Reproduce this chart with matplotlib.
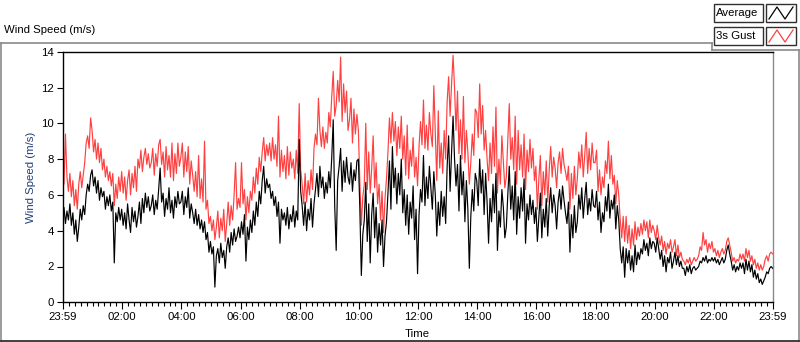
import numpy as np
import matplotlib
matplotlib.use("Agg")
import matplotlib.pyplot as plt
from matplotlib.patches import Rectangle
from matplotlib.lines import Line2D

# ---- data (3-minute samples from 23:59 to 23:59), one row per hour ----
average = [
    4.9, 5.3, 4.4, 5.1, 4.6, 5.5, 4.3, 5.0, 3.8, 4.6, 3.4, 4.2, 5.2, 4.6, 5.4, 4.9, 6.0, 6.6, 6.2, 7.1,
    7.4, 6.5, 7.0, 6.1, 6.8, 5.7, 6.4, 5.9, 6.2, 5.2, 5.9, 5.4, 6.0, 5.1, 5.6, 2.2, 5.0, 4.5, 5.3, 4.6,
    5.2, 4.3, 5.0, 4.1, 5.5, 4.6, 3.9, 5.3, 4.5, 5.1, 4.2, 4.8, 5.6, 4.4, 5.8, 5.0, 6.1, 5.3, 5.9, 5.1,
    5.4, 6.0, 4.9, 5.7, 5.2, 6.3, 7.5, 5.6, 6.1, 4.8, 5.8, 5.2, 6.4, 5.0, 5.7, 4.7, 5.9, 5.3, 6.2, 5.5,
    5.6, 6.2, 4.9, 5.9, 5.3, 6.4, 4.7, 5.5, 5.0, 4.4, 5.2, 4.3, 4.9, 4.1, 4.6, 3.9, 4.5, 3.5, 3.9, 2.8,
    3.4, 2.7, 3.1, 0.85, 2.6, 3.0, 2.2, 3.3, 2.5, 2.9, 1.9, 3.1, 3.6, 2.8, 3.9, 3.2, 4.1, 3.4, 3.7, 4.2,
    3.6, 4.5, 3.8, 4.9, 2.3, 4.2, 3.5, 4.6, 3.9, 5.1, 4.3, 5.6, 4.8, 6.2, 5.5, 6.8, 7.6, 6.1, 6.9, 6.4,
    6.6, 5.8, 6.2, 5.4, 5.9, 4.8, 5.6, 3.3, 5.2, 4.6, 5.0, 4.3, 5.3, 4.1, 4.9, 4.5, 5.4, 4.2, 5.1, 4.6,
    9.1, 6.2, 5.4, 4.3, 5.6, 4.0, 5.2, 4.6, 5.8, 4.2, 5.5, 6.3, 7.2, 5.9, 7.6, 6.4, 7.0, 5.8, 6.7, 6.1,
    7.3, 6.4, 8.1, 10.2, 5.4, 2.9, 6.8, 7.6, 8.6, 6.2, 7.9, 6.7, 8.1, 7.0, 6.6, 7.8, 6.2, 7.4, 6.8, 7.9,
    8.0, 5.2, 1.5, 3.8, 4.6, 6.7, 3.4, 5.5, 2.2, 4.9, 6.1, 3.6, 5.3, 2.8, 4.4, 3.2, 4.6, 2.0, 3.7, 4.5,
    6.1, 7.9, 5.2, 8.7, 6.4, 7.5, 5.5, 7.2, 6.0, 8.0, 5.0, 6.3, 4.3, 6.0, 3.8, 5.6, 4.7, 6.5, 3.5, 5.2,
    1.6, 4.9, 6.3, 5.6, 8.2, 5.4, 7.0, 5.8, 7.6, 6.4, 5.2, 7.3, 6.0, 3.7, 5.6, 4.3, 6.2, 4.8, 5.9, 4.4,
    7.6, 9.3, 6.2, 8.4, 10.4, 8.0, 6.5, 7.7, 5.1, 8.2, 6.0, 7.3, 4.5, 6.8, 5.2, 1.9, 4.8, 6.3, 5.1, 7.2,
    6.8, 5.4, 8.0, 6.1, 7.4, 4.9, 7.2, 5.6, 3.3, 5.8, 4.5, 6.6, 5.0, 7.2, 2.9, 5.1, 4.2, 6.3, 5.3, 3.6,
    4.2, 6.0, 7.6, 5.2, 6.5, 4.6, 7.3, 3.8, 5.9, 4.7, 6.4, 5.1, 6.9, 3.3, 5.5, 4.6, 6.0, 4.9, 5.7, 4.4,
    5.3, 3.4, 4.8, 6.1, 3.6, 5.2, 4.2, 5.8, 3.7, 5.4, 6.4, 5.0, 6.0, 5.4, 4.1, 5.6, 6.3, 5.2, 6.5, 5.7,
    5.0, 4.4, 5.6, 2.8, 4.9, 3.6, 5.4, 3.9, 4.5, 6.0, 5.2, 6.4, 4.7, 5.8, 6.7, 4.9, 5.8, 5.1, 6.3, 5.4,
    5.3, 6.2, 4.6, 5.6, 3.9, 5.0, 4.5, 5.9, 5.1, 6.6, 4.7, 5.7, 5.2, 6.0, 4.1, 5.4, 4.6, 3.0, 2.2, 3.1,
    1.4, 3.0, 2.2, 2.9, 1.8, 2.6, 1.7, 3.2, 2.1, 2.8, 2.4, 3.0, 2.7, 3.5, 2.9, 3.3, 2.6, 3.6, 3.0, 3.4,
    3.3, 2.8, 3.6, 3.0, 2.4, 2.9, 2.0, 2.6, 1.7, 2.5, 2.2, 2.8, 1.9, 2.3, 2.8, 2.1, 2.6, 2.0, 2.3, 1.9,
    1.9, 1.5, 2.0, 1.7, 2.1, 1.6, 1.9, 2.0, 1.8, 1.9, 2.0, 2.3, 2.2, 2.5, 2.3, 2.6, 2.2, 2.4, 2.3, 2.5,
    2.3, 2.5, 2.2, 2.4, 2.1, 2.3, 2.5, 2.2, 2.4, 2.9, 3.2, 2.7, 2.3, 1.8, 2.1, 1.7, 2.0, 1.8, 2.2, 1.9,
    2.2, 1.6, 2.4, 1.8, 2.3, 1.7, 2.1, 1.4, 1.8, 1.3, 1.6, 1.1, 1.3, 1.0, 1.2, 1.4, 1.7, 1.6, 1.9, 2.0,
    1.9,
]
gust = [
    7.5, 6.6, 9.4, 7.0, 6.2, 7.2, 5.9, 6.8, 5.4, 6.3, 5.2, 6.6, 7.3, 6.4, 7.1, 7.8, 8.9, 9.3, 8.6, 10.3,
    9.6, 8.4, 9.1, 8.0, 8.9, 7.8, 8.6, 7.4, 8.0, 7.0, 7.6, 6.8, 7.3, 6.5, 7.2, 5.4, 6.6, 5.8, 7.0, 6.2,
    7.3, 6.1, 7.0, 5.7, 6.8, 7.4, 6.0, 7.2, 6.4, 7.6, 6.2, 8.0, 7.5, 8.5, 7.3, 8.1, 8.6, 7.7, 8.3, 7.5,
    7.8, 8.6, 7.1, 8.3, 7.6, 8.8, 9.1, 7.7, 8.4, 7.0, 8.7, 7.4, 8.2, 7.0, 8.9, 6.8, 8.3, 7.2, 8.9, 7.6,
    8.1, 8.9, 7.0, 8.4, 7.3, 8.7, 6.6, 7.9, 7.1, 6.2, 7.3, 5.9, 8.2, 5.8, 6.9, 5.6, 9.0, 5.2, 5.7, 4.4,
    4.8, 4.0, 4.6, 3.5, 4.2, 5.1, 3.6, 4.7, 4.0, 5.2, 3.4, 4.4, 5.6, 4.3, 5.4, 4.6, 6.0, 7.8, 5.2, 5.8,
    5.3, 7.8, 5.5, 6.3, 4.6, 5.9, 5.0, 6.2, 5.7, 7.0, 6.1, 7.5, 6.6, 8.1, 7.3, 8.4, 9.2, 7.9, 8.8, 8.2,
    8.9, 7.9, 9.2, 8.0, 8.8, 7.6, 10.4, 7.0, 8.5, 7.3, 8.2, 6.9, 8.7, 7.1, 8.4, 7.5, 8.0, 6.9, 8.5, 7.2,
    11.1, 7.4, 6.6, 5.5, 7.2, 5.6, 6.8, 6.0, 7.4, 6.3, 8.6, 9.4, 8.8, 11.4, 9.6, 8.7, 9.8, 8.6, 9.5, 8.9,
    10.6, 9.8, 11.5, 12.9, 10.4, 11.0, 12.4, 11.2, 13.7, 10.1, 12.2, 10.6, 11.8, 9.6, 10.2, 11.4, 8.9, 10.8, 9.4, 10.5,
    9.6, 6.7, 4.3, 5.9, 6.6, 10.0, 6.3, 8.4, 6.1, 7.5, 9.3, 6.4, 7.8, 5.5, 6.6, 4.6, 6.2, 3.9, 5.8, 6.9,
    8.4, 10.3, 8.9, 10.6, 9.0, 10.1, 8.2, 9.8, 8.6, 10.4, 8.0, 9.3, 7.1, 9.9, 6.9, 8.5, 7.6, 9.2, 7.0, 8.1,
    6.5, 8.7, 10.1, 8.8, 11.3, 8.6, 9.9, 8.5, 10.6, 9.4, 8.7, 12.1, 9.4, 6.8, 10.7, 7.5, 8.9, 7.2, 9.6, 8.0,
    11.2, 12.6, 10.4, 12.2, 13.8, 12.0, 9.6, 11.8, 8.3, 10.2, 8.0, 11.5, 7.8, 9.6, 8.4, 6.6, 7.8, 9.4, 8.2, 10.8,
    10.6, 9.2, 12.2, 9.4, 11.0, 8.5, 9.6, 8.0, 6.8, 8.9, 7.2, 9.8, 7.6, 10.9, 6.1, 8.0, 6.6, 9.3, 7.8, 6.4,
    7.0, 9.0, 11.1, 8.0, 9.2, 7.4, 10.4, 6.6, 9.6, 7.4, 8.8, 7.0, 9.4, 6.3, 8.5, 7.3, 9.1, 7.5, 8.6, 6.8,
    7.6, 5.2, 6.9, 8.2, 5.4, 7.3, 6.0, 7.9, 5.6, 7.4, 8.7, 7.0, 8.1, 7.5, 6.4, 7.8, 8.4, 7.2, 8.6, 7.7,
    7.3, 6.8, 7.6, 5.2, 7.2, 5.8, 7.6, 6.0, 6.9, 8.4, 7.5, 8.8, 7.0, 8.2, 9.5, 7.2, 8.6, 7.4, 8.9, 7.8,
    7.8, 8.5, 6.2, 7.4, 6.0, 7.0, 6.4, 7.9, 7.2, 9.0, 6.9, 8.2, 6.6, 7.1, 5.5, 6.8, 6.0, 4.6, 3.6, 4.8,
    3.4, 4.8, 3.3, 4.3, 3.0, 4.1, 3.2, 4.5, 3.5, 4.2, 3.7, 4.4, 3.8, 4.6, 4.0, 4.5, 3.6, 4.6, 3.9, 4.3,
    4.0, 3.5, 4.3, 3.6, 3.2, 3.7, 2.9, 3.4, 2.7, 3.3, 3.0, 3.5, 2.8, 3.1, 3.5, 2.6, 3.2, 2.5, 2.8, 2.4,
    2.3, 2.1, 2.4, 2.2, 2.5, 2.1, 2.3, 2.5, 2.3, 2.4, 2.6, 3.1, 2.9, 3.9, 3.2, 3.5, 2.8, 3.3, 3.0, 3.4,
    2.8, 3.0, 2.6, 2.9, 2.5, 2.8, 3.0, 2.7, 2.9, 3.4, 3.6, 3.2, 2.8, 2.3, 2.5, 2.2, 2.4, 2.3, 2.7, 2.4,
    2.7, 2.3, 3.0, 2.5, 2.9, 2.3, 2.6, 2.1, 2.4, 1.9, 2.2, 1.8, 2.1, 1.8, 2.0, 2.4, 2.6, 2.3, 2.7, 2.8,
    2.7,
]
tick_labels = ["23:59", "02:00", "04:00", "06:00", "08:00", "10:00", "12:00",
               "14:00", "16:00", "18:00", "20:00", "22:00", "23:59"]
y_ticks = [0, 2, 4, 6, 8, 10, 12, 14]
series_names = ["Average", "3s Gust"]
series_colors = ["#000000", "#FF4040"]

# ---- figure ----
plt.rcParams['font.family'] = ['Liberation Sans', 'DejaVu Sans']
W, H = 800, 342
fig = plt.figure(figsize=(W / 100, H / 100), dpi=100)
fig.patch.set_facecolor("white")

def fx(px):
    return px / W

def fy(py):
    return 1 - py / H

ax = fig.add_axes([fx(62.5), fy(302.3), fx(772.6) - fx(62.5), fy(51.7) - fy(302.3)])

start = -1 / 60.0
t_avg = start + np.arange(len(average)) / 20.0
t_gust = start + np.arange(len(gust)) / 20.0
ax.plot(t_gust, gust, color=series_colors[1], lw=0.85, zorder=2)
ax.plot(t_avg, average, color=series_colors[0], lw=0.85, zorder=3)

ax.set_xlim(start, 24 + start)
ax.set_ylim(0, 14)
major = [start] + list(range(2, 24, 2)) + [24 + start]
ax.set_xticks(major)
ax.set_xticklabels(tick_labels)
ax.set_xticks(np.arange(0.2, 23.9, 0.2), minor=True)
ax.set_yticks(y_ticks)
ax.tick_params(axis='x', which='major', length=5, width=0.8, pad=2, labelsize=8.2, colors='black')
ax.tick_params(axis='x', which='minor', length=3, width=0.8)
ax.tick_params(axis='y', which='major', length=4, width=0.8, pad=2, labelsize=8.2)
for s in ['top', 'left', 'bottom']:
    ax.spines[s].set_color('black')
    ax.spines[s].set_linewidth(1.0)
ax.spines['right'].set_color('#8a8a8a')
ax.spines['right'].set_linewidth(1.0)

ax.set_ylabel("Wind Speed (m/s)", color="#1F3F77", fontsize=8.2, labelpad=4)
ax.set_xlabel("Time", fontsize=8.2, labelpad=5)

# ---- panel frame ----
gray = '#8a8a8a'
fig.add_artist(Line2D([fx(0.5), fx(712)], [fy(42.5), fy(42.5)], color=gray, lw=1.2))
fig.add_artist(Line2D([fx(712), fx(712)], [fy(42.5), fy(49.5)], color=gray, lw=1.2))
fig.add_artist(Line2D([fx(712), fx(799)], [fy(49.5), fy(49.5)], color=gray, lw=1.2))
fig.add_artist(Line2D([fx(799), fx(799)], [fy(49.5), fy(341)], color=gray, lw=1.2))
fig.add_artist(Line2D([fx(0.5), fx(0.5)], [fy(42.5), fy(341)], color=gray, lw=1.2))
fig.add_artist(Line2D([fx(0.5), fx(799)], [fy(341), fy(341)], color='#202020', lw=1.2))

fig.text(fx(4), fy(30), "Wind Speed (m/s)", fontsize=8.2, va='center', ha='left')

# ---- legend (LabVIEW style plot legend) ----
rows = [(4, 22), (27, 45)]
for (y0, y1), name, col in zip(rows, series_names, series_colors):
    fig.add_artist(Rectangle((fx(713.5), fy(y1)), fx(763) - fx(713.5), fy(y0) - fy(y1),
                             transform=fig.transFigure, fill=False, ec='#303030', lw=1.0))
    fig.text(fx(716), fy((y0 + y1) / 2), name, fontsize=8.2, va='center', ha='left')
    fig.add_artist(Rectangle((fx(766), fy(y1)), fx(796) - fx(766), fy(y0) - fy(y1),
                             transform=fig.transFigure, fill=False, ec='#303030', lw=1.0))
    xs = [769, 777, 785, 793]
    ys = [y1 - 3, y0 + 3, y1 - 3, y0 + 3]
    fig.add_artist(Line2D([fx(v) for v in xs], [fy(v) for v in ys], color=col, lw=0.9))

fig.savefig("out.png", dpi=100, facecolor="white")
